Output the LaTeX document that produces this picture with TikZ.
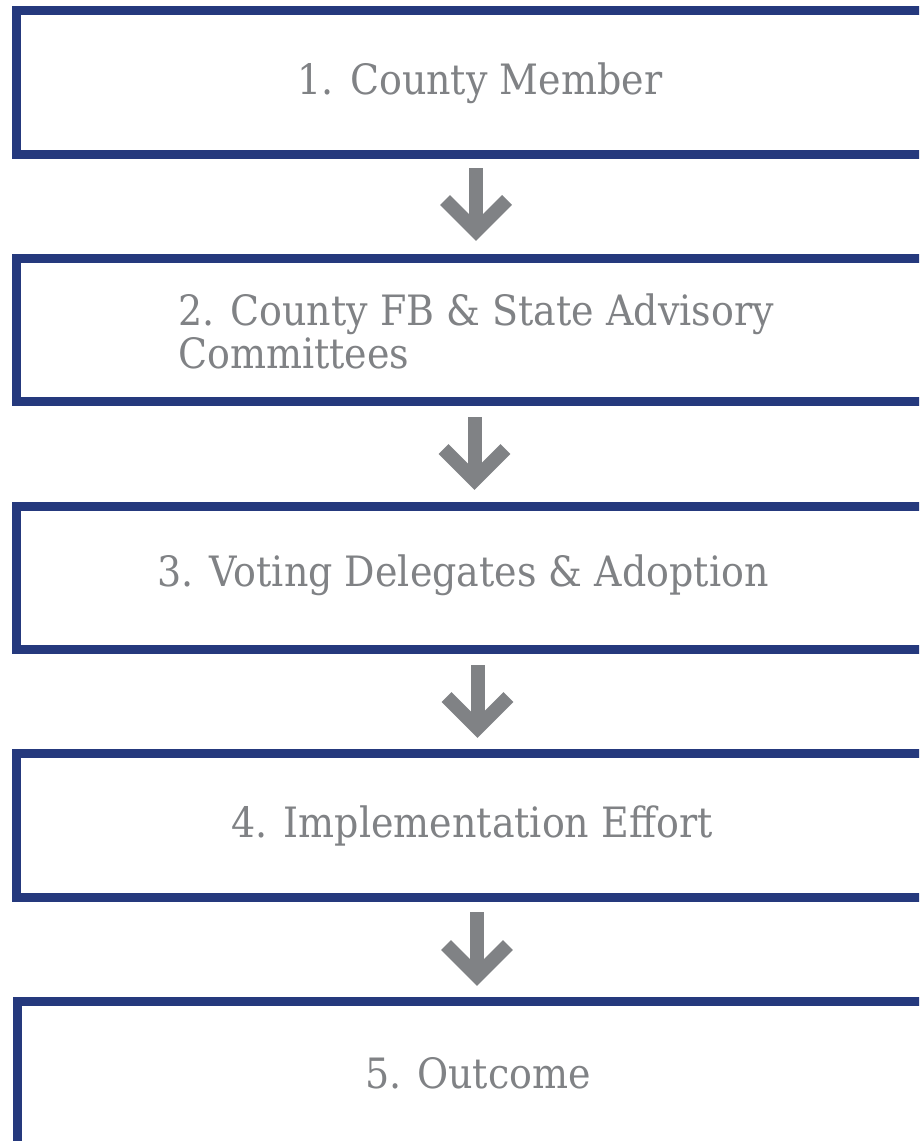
\documentclass[tikz,border=0pt]{standalone}
\usepackage{fontspec}
\usepackage{graphicx}
\setmainfont{DejaVu Serif}
\usetikzlibrary{calc}
\definecolor{boxblue}{RGB}{37,57,125}
\definecolor{txtgray}{RGB}{128,130,133}
\newcommand{\tall}[1]{\scalebox{1}[1.1]{#1}}
\tikzset{
  stepbox/.style={draw=boxblue, line width=9pt, fill=white, rectangle, inner sep=0pt},
  steptext/.style={text=txtgray, font=\fontsize{38}{37}\selectfont, inner sep=0pt},
  shaft/.style={draw=txtgray, line width=14pt, line cap=butt},
  chevron/.style={draw=txtgray, line width=14pt, line cap=butt, line join=miter},
}
\begin{document}
\begin{tikzpicture}[x=1pt,y=-1pt]
\useasboundingbox (0,0) rectangle (919,1141);
\clip (0,0) rectangle (919,1141);
\fill[white] (0,0) rectangle (919,1141);
% boxes
\draw[stepbox] (16.5,10.5) rectangle (940,154.5);
\draw[stepbox] (16.5,258.5) rectangle (940,401.5);
\draw[stepbox] (16.5,506.5) rectangle (940,649.5);
\draw[stepbox] (16.5,753.5) rectangle (940,897.5);
\draw[stepbox] (17.5,1001.5) rectangle (940,1145.5);
% texts
\node[steptext] (t1) at (480,83) {\tall{1. County Member}};
\node[steptext, anchor=west] (t2) at (178,337) {\tall{\begin{tabular}{@{}l@{}}2. County FB \& State Advisory\\Committees\end{tabular}}};
\node[steptext] (t3) at (463,575) {\tall{3. Voting Delegates \& Adoption}};
\node[steptext] (t4) at (472,826) {\tall{4. Implementation Effort}};
\node[steptext] (t5) at (478,1073) {\tall{5. Outcome}};
% arrows
\foreach \n/\x/\top/\tip in {1/476/168/241, 2/474.5/417/490, 3/477.5/665/738, 4/477/912/986}{
  \coordinate (a\n s) at (\x,\top);
  \coordinate (a\n e) at (\x,\tip-10);
  \draw[shaft] (a\n s) -- (a\n e);
  \draw[chevron] ($(a\n e)+(-31,-31)$) -- (a\n e) -- ($(a\n e)+(31,-31)$);
}
\end{tikzpicture}
\end{document}
